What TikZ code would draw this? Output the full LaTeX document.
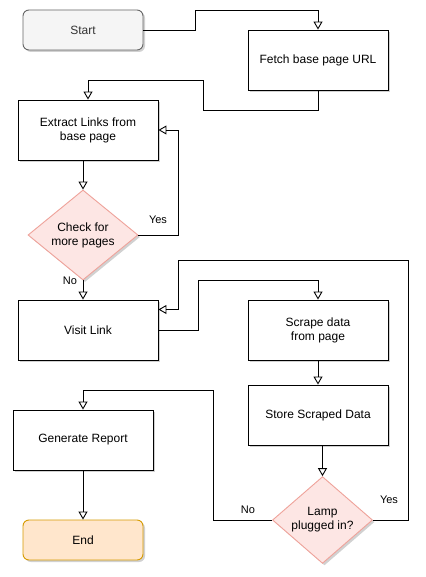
\documentclass[tikz,border=0pt]{standalone}
\usepackage{fontspec}
\setmainfont{Liberation Sans}
\usetikzlibrary{arrows.meta,shapes.geometric,shadows}
\definecolor{startfill}{HTML}{F5F5F5}
\definecolor{startdraw}{HTML}{666666}
\definecolor{starttext}{HTML}{333333}
\definecolor{endfill}{HTML}{FFE6CC}
\definecolor{enddraw}{HTML}{D79B00}
\definecolor{decfill}{HTML}{FDE6E4}
\definecolor{decdraw}{HTML}{EFA29A}
\begin{document}
\begin{tikzpicture}[x=1pt,y=-1pt,
  every node/.style={font=\fontsize{12}{14}\selectfont, align=center, inner sep=0pt},
  shad/.style={drop shadow={shadow xshift=2pt,shadow yshift=-2pt,opacity=0.18,fill=black}},
  procbox/.style={rectangle, draw=black, fill=white, line width=0.9pt, minimum width=140pt, minimum height=60pt, shad},
  termbox/.style={rectangle, rounded corners=6pt, line width=0.9pt, minimum width=120pt, minimum height=40pt, shad},
  decbox/.style={diamond, draw=decdraw, fill=decfill, line width=0.9pt, shad},
  arr/.style={-{Triangle[open,length=8pt,width=9pt]}, line width=0.9pt, black},
  lbl/.style={font=\fontsize{11}{13}\selectfont, fill=white, inner sep=1pt}]
\useasboundingbox (0,0) rectangle (425,577);
\fill[white] (0,0) rectangle (425,577);

\node[termbox, draw=startdraw, fill=startfill, text=starttext] (start) at (83,30) {Start};
\node[procbox] (fetch) at (318,60) {Fetch base page URL};
\node[procbox] (extract) at (88,130) {Extract Links from\\base page};
\node[decbox, minimum width=110pt, minimum height=90pt] (check) at (83,235) {Check for\\more pages};
\node[procbox] (visit) at (88,330) {Visit Link};
\node[procbox] (scrape) at (318,330) {Scrape data\\ from page};
\node[procbox] (store) at (318,415) {Store Scraped Data};
\node[decbox, minimum width=100pt, minimum height=80pt] (lamp) at (322.5,520) {Lamp\\plugged in?};
\node[procbox] (report) at (83,440) {Generate Report};
\node[termbox, draw=enddraw, fill=endfill] (end) at (83,540) {End};

\draw[arr] (start.east) -- (195.5,30) -- (195.5,10) -| (fetch.north);
\draw[arr] (fetch.south) -- (318,110) -- (203,110) -- (203,80) -| (extract.north);
\draw[arr] (extract.south -| check.north) -- (check.north);
\draw[arr] (check.east) -- (178,235) -- (178,130) -- (extract.east);
\draw[arr] (check.south) -- (check.south |- visit.north);
\draw[arr] (visit.east) -- (198,330) -- (198,280) -| (scrape.north);
\draw[arr] (scrape.south) -- (store.north);
\draw[arr] (store.south -| lamp.north) -- (lamp.north);
\draw[arr] (lamp.east) -- (408,520) -- (408,260) -- (178,260) -- (178,309.5) -- (visit.east |- 0,309.5);
\draw[arr] (lamp.west) -- (213,520) -- (213,390.5) -| (report.north);
\draw[arr] (report.south) -- (end.north);

\node[lbl] (yes1) at (158,220) {Yes};
\node[lbl] (no1) at (70,281) {No};
\node[lbl] (no2) at (248,510) {No};
\node[lbl] (yes2) at (389,500) {Yes};
\end{tikzpicture}
\end{document}
